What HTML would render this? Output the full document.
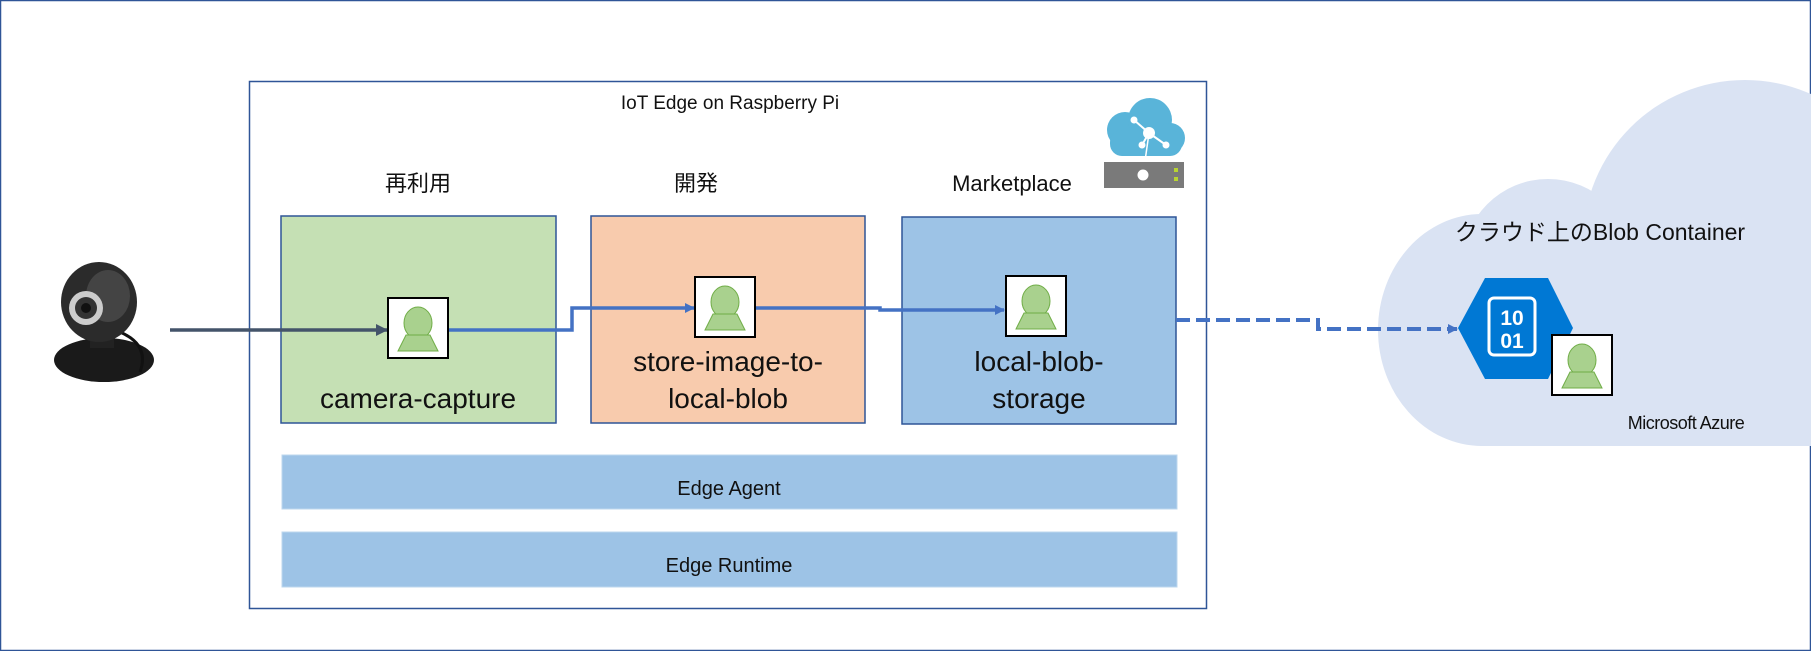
<!DOCTYPE html>
<html><head><meta charset="utf-8"><style>
html,body{margin:0;padding:0;background:#fff}
svg{display:block}
text{font-family:"Liberation Sans","Noto Sans CJK JP",sans-serif;fill:#111}
</style></head><body>
<svg width="1811" height="651" viewBox="0 0 1811 651" xmlns="http://www.w3.org/2000/svg">
<defs>
<marker id="ad" markerWidth="12" markerHeight="12" refX="11" refY="6" orient="auto" markerUnits="userSpaceOnUse"><path d="M0,0 L12,6 L0,12 z" fill="#44546A"/></marker>
<marker id="ab" markerWidth="10" markerHeight="10" refX="9" refY="5" orient="auto" markerUnits="userSpaceOnUse"><path d="M0,0 L10,5 L0,10 z" fill="#4472C4"/></marker>
<g id="person"><rect x="0" y="0" width="60" height="60" fill="#fff" stroke="#000" stroke-width="2"/><ellipse cx="30" cy="25" rx="14" ry="16" fill="#A9D18E" stroke="#70AD47" stroke-width="1"/><path d="M18,37 L42,37 L50,53 L10,53 z" fill="#A9D18E" stroke="#70AD47" stroke-width="1"/></g>
</defs>
<rect x="0.5" y="0.5" width="1810" height="650" fill="#fff" stroke="#2F5597" stroke-width="1.5"/>
<!-- cloud -->
<g fill="#DAE3F3">
<ellipse cx="1482" cy="330" rx="104" ry="116"/>
<circle cx="1548" cy="265" r="86"/>
<circle cx="1745" cy="242" r="162"/>
<rect x="1480" y="260" width="331" height="186"/>
</g>
<!-- IoT box -->
<rect x="249.5" y="81.5" width="957" height="527" fill="none" stroke="#2F5597" stroke-width="1.5"/>
<text x="730" y="109" font-size="19" text-anchor="middle">IoT Edge on Raspberry Pi</text>
<text x="418" y="191" font-size="22" text-anchor="middle">再利用</text>
<text x="696" y="191" font-size="22" text-anchor="middle">開発</text>
<text x="1012" y="191" font-size="22" text-anchor="middle">Marketplace</text>
<!-- server icon -->
<g>
<circle cx="1125" cy="130" r="18" fill="#59B4D9"/><circle cx="1150" cy="120" r="22" fill="#59B4D9"/><circle cx="1170" cy="138" r="15" fill="#59B4D9"/><rect x="1110" y="130" width="72" height="26" rx="12" fill="#59B4D9"/>
<line x1="1149" y1="133" x2="1134" y2="120" stroke="#fff" stroke-width="2"/><line x1="1149" y1="133" x2="1166" y2="145" stroke="#fff" stroke-width="2"/><line x1="1149" y1="133" x2="1142" y2="145" stroke="#fff" stroke-width="2"/><line x1="1149" y1="133" x2="1143" y2="175" stroke="#fff" stroke-width="1.5"/>
<circle cx="1149" cy="133" r="6" fill="#fff"/><circle cx="1134" cy="120" r="3.5" fill="#fff"/><circle cx="1166" cy="145" r="3.5" fill="#fff"/><circle cx="1142" cy="145" r="3.5" fill="#fff"/>
<rect x="1104" y="162" width="80" height="26" fill="#7A7A7A"/>
<circle cx="1143" cy="175" r="6" fill="#fff" stroke="#7A7A7A"/>
<rect x="1174" y="168" width="4" height="4" fill="#B8D432"/><rect x="1174" y="177" width="4" height="4" fill="#B8D432"/>
</g>
<!-- module boxes -->
<rect x="281" y="216" width="275" height="207" fill="#C5E0B4" stroke="#2F5597" stroke-width="1.5"/>
<rect x="591" y="216" width="274" height="207" fill="#F8CBAD" stroke="#2F5597" stroke-width="1.5"/>
<rect x="902" y="217" width="274" height="207" fill="#9DC3E6" stroke="#2F5597" stroke-width="1.5"/>
<rect x="282" y="455" width="895" height="54" fill="#9DC3E6" stroke="#BDD7EE" stroke-width="1"/>
<rect x="282" y="532" width="895" height="55" fill="#9DC3E6" stroke="#BDD7EE" stroke-width="1"/>
<text x="729" y="495" font-size="20" text-anchor="middle">Edge Agent</text>
<text x="729" y="572" font-size="20" text-anchor="middle">Edge Runtime</text>
<text x="418" y="408" font-size="28" text-anchor="middle">camera-capture</text>
<text x="728" y="371" font-size="28" text-anchor="middle">store-image-to-</text>
<text x="728" y="408" font-size="28" text-anchor="middle">local-blob</text>
<text x="1039" y="371" font-size="28" text-anchor="middle">local-blob-</text>
<text x="1039" y="408" font-size="28" text-anchor="middle">storage</text>
<!-- connectors -->
<line x1="170" y1="330" x2="387" y2="330" stroke="#44546A" stroke-width="3.5" marker-end="url(#ad)"/>
<polyline points="449,330 572,330 572,308 694,308" fill="none" stroke="#4472C4" stroke-width="3.5" marker-end="url(#ab)"/>
<polyline points="756,308 880,308 880,310 1004,310" fill="none" stroke="#4472C4" stroke-width="3.5" marker-end="url(#ab)"/>
<polyline points="1176,320 1318,320 1318,329 1457,329" fill="none" stroke="#4472C4" stroke-width="4" stroke-dasharray="14,6" marker-end="url(#ab)"/>
<use href="#person" x="388" y="298"/>
<use href="#person" x="695" y="277"/>
<use href="#person" x="1006" y="276"/>
<!-- azure -->
<text x="1600" y="240" font-size="23" text-anchor="middle">クラウド上のBlob Container</text>
<path d="M1458,328 L1485,278 L1548,278 L1573,328 L1548,379 L1485,379 z" fill="#0078D4"/>
<rect x="1489" y="298" width="46" height="57" rx="5" fill="none" stroke="#fff" stroke-width="3"/>
<text x="1512" y="325" font-size="21" font-weight="bold" text-anchor="middle" style="fill:#fff">10</text>
<text x="1512" y="348" font-size="21" font-weight="bold" text-anchor="middle" style="fill:#fff">01</text>
<use href="#person" x="1552" y="335"/>
<text x="1686" y="429" font-size="18" text-anchor="middle" letter-spacing="-0.5">Microsoft Azure</text>
<!-- webcam -->
<g>
<ellipse cx="104" cy="360" rx="50" ry="22" fill="#1a1a1a"/>
<path d="M120,332 Q150,345 140,372" stroke="#111" stroke-width="3" fill="none"/>
<rect x="90" y="330" width="24" height="18" fill="#222"/>
<ellipse cx="99" cy="302" rx="38" ry="40" fill="#2b2b2b"/>
<ellipse cx="108" cy="296" rx="22" ry="26" fill="#555" opacity="0.6"/>
<circle cx="86" cy="308" r="17" fill="#ccc"/><circle cx="86" cy="308" r="11" fill="#333"/><circle cx="86" cy="308" r="5" fill="#111"/>
</g>
</svg>
</body></html>
